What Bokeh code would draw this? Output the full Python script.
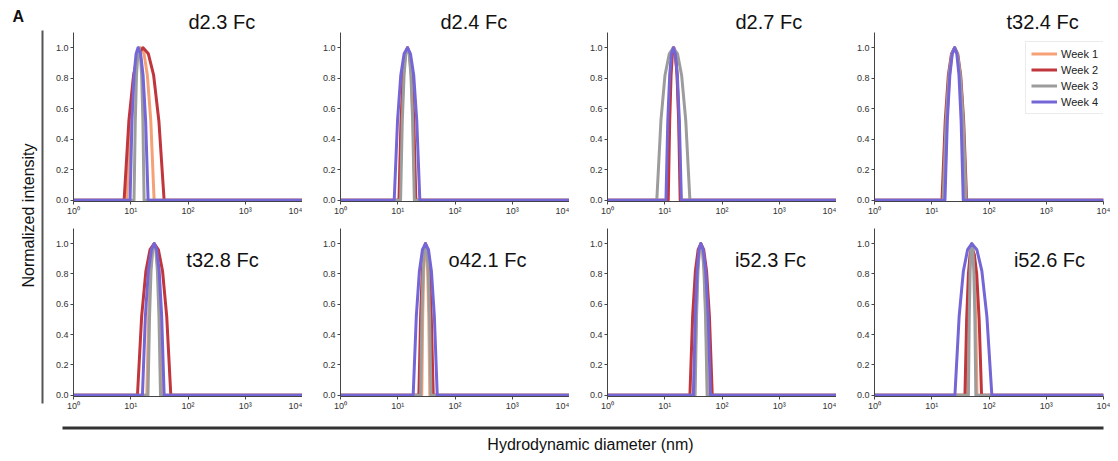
from math import pi

from bokeh.embed import file_html
from bokeh.layouts import column, row
from bokeh.models import (BoxAnnotation, ColumnDataSource, FixedTicker, Label,
                          Legend, LegendItem, PrintfTickFormatter, Range1d)
from bokeh.plotting import figure
from bokeh.resources import INLINE

# ---------------------------------------------------------------- data
panels = ["d2.3 Fc", "d2.4 Fc", "d2.7 Fc", "t32.4 Fc",
          "t32.8 Fc", "o42.1 Fc", "i52.3 Fc", "i52.6 Fc"]
weeks = ["Week 1", "Week 2", "Week 3", "Week 4"]
week_colors = ["#F5A077", "#C0363C", "#9C9C9C", "#7466D6"]

x_ticks = [1, 10, 100, 1000, 10000]
x_tick_labels = ["10⁰", "10¹", "10²", "10³", "10⁴"]
y_ticks = [0.0, 0.2, 0.4, 0.6, 0.8, 1.0]

# baseline ends of every distribution (nm)
baseline_nm = [1.0, 10000.0]

# hydrodynamic diameters (nm) across each peak, one list per panel
week1_nm = [
    [8.53, 9.82, 11.3, 13.0, 15.0, 17.1, 19.5, 22.4, 25.6],
    [10.7, 11.6, 12.6, 13.6, 14.8, 16.0, 17.2, 18.5, 20.0],
    [11.0, 11.7, 12.4, 13.3, 14.1, 15.2, 16.4, 17.7, 19.1],
    [16.6, 18.4, 20.4, 22.6, 25.1, 27.9, 30.9, 34.3, 38.0],
    [19.1, 20.5, 22.1, 23.9, 25.7, 27.7, 29.9, 32.2, 34.7],
    [26.3, 27.3, 28.4, 29.4, 30.5, 31.9, 33.3, 34.8, 36.3],
    [33.1, 35.3, 37.6, 40.1, 42.7, 45.7, 49.0, 52.5, 56.2],
    [41.7, 43.7, 45.7, 47.9, 50.1, 52.8, 55.6, 58.6, 61.7],
]
week2_nm = [
    [7.66, 9.27, 11.2, 13.6, 16.4, 20.3, 25.1, 31.0, 38.3],
    [10.5, 11.4, 12.4, 13.6, 14.8, 16.1, 17.5, 19.1, 20.7],
    [11.5, 12.2, 12.9, 13.6, 14.5, 15.4, 16.4, 17.5, 18.6],
    [15.1, 17.2, 19.5, 22.1, 25.1, 28.4, 32.0, 36.1, 40.7],
    [13.1, 15.5, 18.4, 21.7, 25.7, 30.4, 35.9, 42.5, 50.1],
    [23.4, 25.1, 26.8, 28.6, 30.5, 33.0, 35.7, 38.5, 41.7],
    [27.5, 30.7, 34.3, 38.3, 42.7, 47.9, 53.7, 60.3, 67.6],
    [38.0, 40.7, 43.7, 46.8, 50.1, 55.3, 61.0, 67.3, 74.1],
]
week3_nm = [
    [11.4, 12.0, 12.6, 13.3, 14.0, 14.7, 15.5, 16.3, 17.1],
    [11.2, 12.0, 12.9, 13.8, 14.8, 15.8, 17.0, 18.2, 19.5],
    [7.26, 8.57, 10.1, 12.0, 14.1, 16.7, 19.7, 23.3, 27.5],
    [15.8, 17.8, 20.0, 22.4, 25.1, 28.2, 31.6, 35.5, 39.8],
    [20.0, 21.3, 22.6, 24.2, 25.7, 27.4, 29.2, 31.1, 33.1],
    [25.1, 26.4, 27.7, 29.1, 30.5, 32.3, 34.1, 36.0, 38.0],
    [33.9, 35.9, 38.0, 40.3, 42.7, 45.5, 48.4, 51.6, 55.0],
    [43.7, 45.2, 46.8, 48.4, 50.1, 52.2, 54.3, 56.6, 58.9],
]
week4_nm = [
    [9.73, 10.5, 11.4, 12.4, 13.4, 14.9, 16.4, 18.2, 20.1],
    [8.67, 9.91, 11.3, 12.9, 14.8, 16.7, 19.0, 21.5, 24.3],
    [10.5, 11.3, 12.2, 13.1, 14.1, 15.3, 16.6, 18.0, 19.5],
    [17.0, 18.7, 20.7, 22.8, 25.1, 27.4, 29.9, 32.6, 35.5],
    [16.0, 18.0, 20.3, 22.9, 25.7, 28.4, 31.4, 34.7, 38.3],
    [18.6, 21.1, 23.9, 27.0, 30.5, 34.4, 38.7, 43.6, 49.0],
    [31.6, 34.1, 36.7, 39.6, 42.7, 47.1, 51.9, 57.3, 63.1],
    [25.4, 30.1, 35.7, 42.3, 50.1, 61.4, 75.0, 91.8, 112.2],
]

# normalized intensities at those diameters
week1_int = [
    [0, 0.52, 0.82, 0.96, 1.0, 0.96, 0.82, 0.52, 0],
    [0, 0.52, 0.82, 0.96, 1.0, 0.96, 0.82, 0.52, 0],
    [0, 0.52, 0.82, 0.96, 1.0, 0.96, 0.82, 0.52, 0],
    [0, 0.52, 0.82, 0.96, 1.0, 0.96, 0.82, 0.52, 0],
    [0, 0.52, 0.82, 0.96, 1.0, 0.96, 0.82, 0.52, 0],
    [0, 0.52, 0.82, 0.96, 1.0, 0.96, 0.82, 0.52, 0],
    [0, 0.52, 0.82, 0.96, 1.0, 0.96, 0.82, 0.52, 0],
    [0, 0.52, 0.82, 0.96, 1.0, 0.96, 0.82, 0.52, 0],
]
week2_int = [
    [0, 0.52, 0.82, 0.96, 1.0, 0.96, 0.82, 0.52, 0],
    [0, 0.52, 0.82, 0.96, 1.0, 0.96, 0.82, 0.52, 0],
    [0, 0.52, 0.82, 0.96, 1.0, 0.96, 0.82, 0.52, 0],
    [0, 0.52, 0.82, 0.96, 1.0, 0.96, 0.82, 0.52, 0],
    [0, 0.52, 0.82, 0.96, 1.0, 0.96, 0.82, 0.52, 0],
    [0, 0.52, 0.82, 0.96, 1.0, 0.96, 0.82, 0.52, 0],
    [0, 0.52, 0.82, 0.96, 1.0, 0.96, 0.82, 0.52, 0],
    [0, 0.50, 0.80, 0.93, 0.97, 0.93, 0.80, 0.50, 0],
]
week3_int = [
    [0, 0.52, 0.82, 0.96, 1.0, 0.96, 0.82, 0.52, 0],
    [0, 0.52, 0.82, 0.96, 1.0, 0.96, 0.82, 0.52, 0],
    [0, 0.52, 0.82, 0.96, 1.0, 0.96, 0.82, 0.52, 0],
    [0, 0.52, 0.82, 0.96, 1.0, 0.96, 0.82, 0.52, 0],
    [0, 0.52, 0.82, 0.96, 1.0, 0.96, 0.82, 0.52, 0],
    [0, 0.52, 0.82, 0.96, 1.0, 0.96, 0.82, 0.52, 0],
    [0, 0.52, 0.82, 0.96, 1.0, 0.96, 0.82, 0.52, 0],
    [0, 0.52, 0.82, 0.96, 1.0, 0.96, 0.82, 0.52, 0],
]
week4_int = [
    [0, 0.52, 0.82, 0.96, 1.0, 0.96, 0.82, 0.52, 0],
    [0, 0.52, 0.82, 0.96, 1.0, 0.96, 0.82, 0.52, 0],
    [0, 0.52, 0.82, 0.96, 1.0, 0.96, 0.82, 0.52, 0],
    [0, 0.52, 0.82, 0.96, 1.0, 0.96, 0.82, 0.52, 0],
    [0, 0.52, 0.82, 0.96, 1.0, 0.96, 0.82, 0.52, 0],
    [0, 0.52, 0.82, 0.96, 1.0, 0.96, 0.82, 0.52, 0],
    [0, 0.52, 0.82, 0.96, 1.0, 0.96, 0.82, 0.52, 0],
    [0, 0.52, 0.82, 0.96, 1.0, 0.96, 0.82, 0.52, 0],
]

week_nm = [week1_nm, week2_nm, week3_nm, week4_nm]
week_int = [week1_int, week2_int, week3_int, week4_int]

# ---------------------------------------------------------------- style
FONT = "Liberation Sans"
TICK_FONT = "Liberation Sans"
# top-row titles: left offset from frame start (px)
top_title_offset = [115, 100, 128, 132]
# bottom-row titles: centre (px from the frame's bottom-left)
bottom_title_pos = [(149, 137), (147, 137), (163, 137), (175, 137)]


def style_blank(p):
    p.outline_line_color = None
    p.background_fill_color = "white"
    p.border_fill_color = "white"
    p.xgrid.visible = False
    p.ygrid.visible = False


def make_panel(i):
    r, c = divmod(i, 4)
    top = r == 0
    w = 256 if c == 0 else (274 if c == 3 else 267)
    bl = 27 if c == 0 else 38
    br = 7 if c == 3 else 0
    bt = 32 if top else 10
    fh = 170 if top else 169
    bb = 16
    p = figure(width=w, height=bt + fh + bb, x_axis_type="log",
               x_range=Range1d(1, 10000), y_range=Range1d(-0.008, 1.1),
               output_backend="svg", toolbar_location=None,
               min_border_left=bl, min_border_right=br,
               min_border_top=bt, min_border_bottom=bb)
    style_blank(p)

    renderers = []
    for k in range(4):
        xs = [baseline_nm[0]] + week_nm[k][i] + [baseline_nm[1]]
        ys = [0.0] + week_int[k][i] + [0.0]
        src = ColumnDataSource(dict(diameter=xs, intensity=ys))
        rr = p.line("diameter", "intensity", source=src, line_width=3,
                    line_color=week_colors[k], line_join="round")
        renderers.append(rr)

    for ax in (p.xaxis, p.yaxis):
        ax.axis_line_color = "#444444"
        ax.axis_line_width = 1
        ax.major_tick_line_color = "#444444"
        ax.major_tick_in = 0
        ax.major_tick_out = 3
        ax.minor_tick_line_color = None
        ax.major_label_text_font = TICK_FONT
        ax.major_label_text_font_size = "9px"
        ax.major_label_text_color = "#333333"
        ax.major_label_standoff = 2
    p.xaxis.ticker = FixedTicker(ticks=x_ticks)
    p.xaxis.major_label_overrides = {t: lab for t, lab in zip(x_ticks, x_tick_labels)}
    p.xaxis.major_label_standoff = 1
    p.yaxis.ticker = FixedTicker(ticks=y_ticks)
    p.yaxis.formatter = PrintfTickFormatter(format="%.1f")

    if top:
        p.title.text = panels[i]
        p.title.align = "left"
        p.title.offset = top_title_offset[c]
        p.title.standoff = 0
        p.title.text_font = FONT
        p.title.text_font_size = "20px"
        p.title.text_font_style = "normal"
        p.title.text_color = "#111111"
    else:
        tx, ty = bottom_title_pos[c]
        p.add_layout(Label(x=tx, y=ty, x_units="screen", y_units="screen",
                           text=panels[i], text_font=FONT, text_font_size="20px",
                           text_color="#111111", text_align="center",
                           text_baseline="middle"))

    if i == 3:
        legend = Legend(items=[LegendItem(label=weeks[k], renderers=[renderers[k]])
                               for k in range(4)],
                        location=(151, 87))
        legend.label_text_font = FONT
        legend.label_text_font_size = "11px"
        legend.label_text_color = "#222222"
        legend.glyph_width = 26
        legend.glyph_height = 13
        legend.label_height = 13
        legend.label_standoff = 4
        legend.spacing = 3
        legend.padding = 5
        legend.margin = 0
        legend.border_line_color = "#d8d8d8"
        legend.background_fill_alpha = 0.9
        p.add_layout(legend)
    return p


figs = [make_panel(i) for i in range(8)]
grid = column(row(*figs[:4]), row(*figs[4:]))

# left strip: panel letter, shared y label and vertical rule
left = figure(width=46, height=413, x_range=Range1d(0, 1), y_range=Range1d(0, 1),
              x_axis_type=None, y_axis_type=None, output_backend="svg",
              toolbar_location=None, min_border=0)
style_blank(left)
left.add_layout(Label(x=12, y=397, x_units="screen", y_units="screen", text="A",
                      text_font=FONT, text_font_size="16px", text_font_style="bold",
                      text_color="#111111", text_baseline="middle"))
left.add_layout(Label(x=28, y=198, x_units="screen", y_units="screen",
                      text="Normalized intensity", angle=pi / 2, text_font=FONT,
                      text_font_size="16px", text_color="#111111",
                      text_align="center", text_baseline="middle"))
left.add_layout(BoxAnnotation(left=41, right=43, bottom=10, top=383,
                              left_units="screen", right_units="screen",
                              bottom_units="screen", top_units="screen",
                              fill_color="#555555", fill_alpha=1, line_color=None))

# bottom strip: horizontal rule and shared x label
bottom = figure(width=1110, height=40, x_range=Range1d(0, 1), y_range=Range1d(0, 1),
                x_axis_type=None, y_axis_type=None, output_backend="svg",
                toolbar_location=None, min_border=0)
style_blank(bottom)
bottom.add_layout(BoxAnnotation(left=62, right=1103, bottom=24, top=27,
                                left_units="screen", right_units="screen",
                                bottom_units="screen", top_units="screen",
                                fill_color="#333333", fill_alpha=1, line_color=None))
bottom.add_layout(Label(x=590, y=9, x_units="screen", y_units="screen",
                        text="Hydrodynamic diameter (nm)", text_font=FONT,
                        text_font_size="16px", text_color="#111111",
                        text_align="center", text_baseline="middle"))

layout = column(row(left, grid), bottom)

open("out.html", "w").write(file_html(layout, INLINE))
